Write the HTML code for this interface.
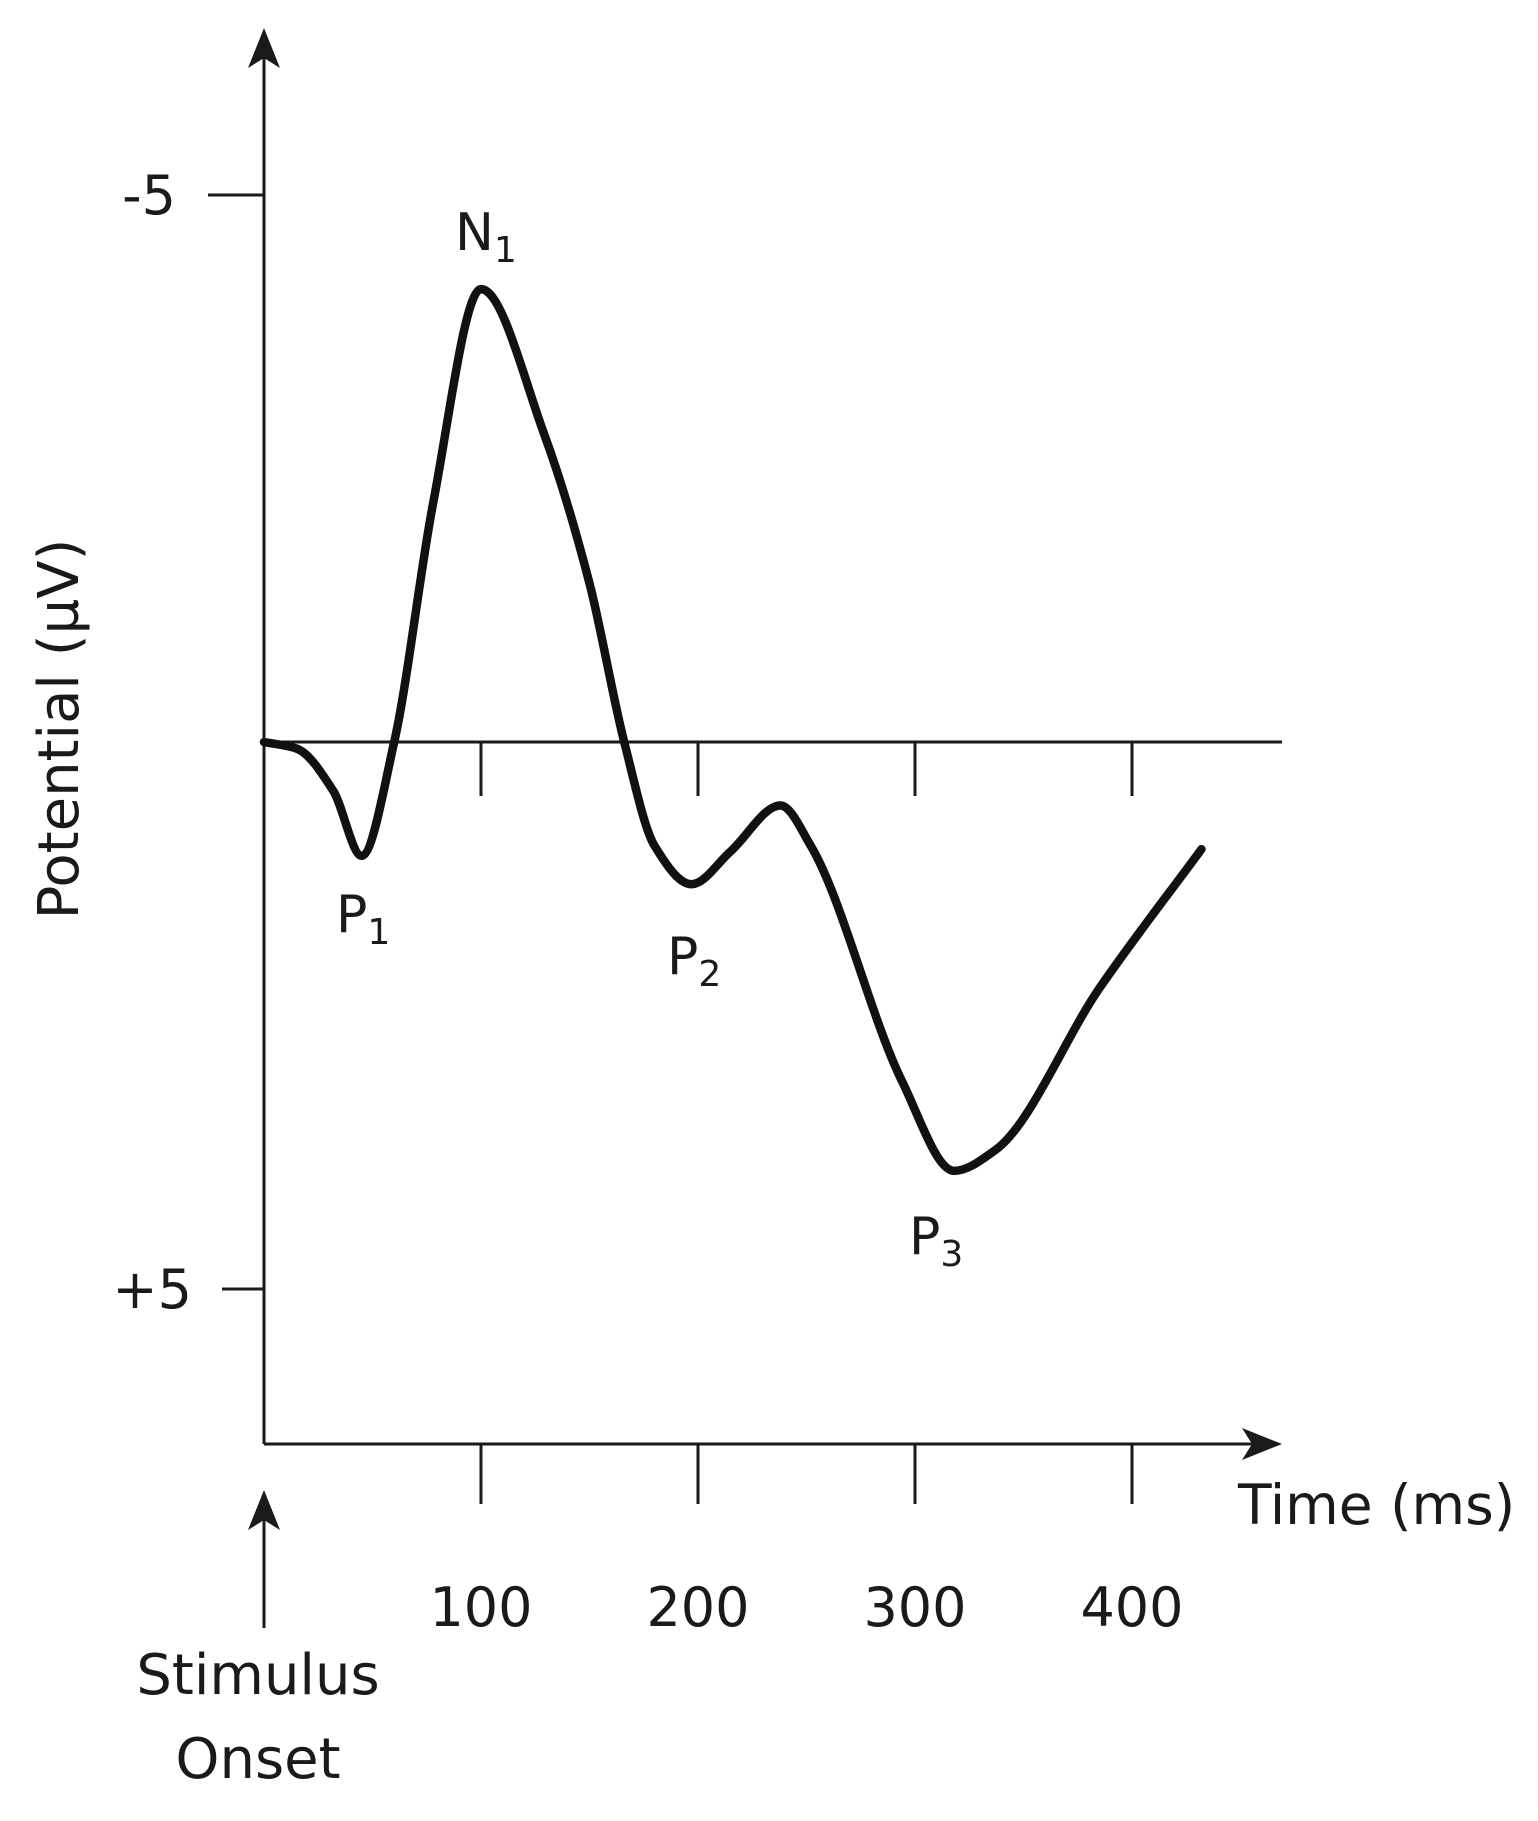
<!DOCTYPE html>
<html><head><meta charset="utf-8"><style>
html,body{margin:0;padding:0;background:#fff;}
svg{display:block;}
text{font-family:"DejaVu Sans","Liberation Sans",sans-serif;fill:#1a1a1a;}
</style></head><body>
<svg id="chart" width="1538" height="1821" viewBox="0 0 1538 1821" xmlns="http://www.w3.org/2000/svg">
<g id="axes" stroke="#1a1a1a" stroke-width="3" fill="none">
  <line x1="264" y1="40" x2="264" y2="1444"/>
  <polygon points="264,28 248,68 264,58 280,68" fill="#1a1a1a" stroke="none"/>
  <line x1="264" y1="1444" x2="1270" y2="1444"/>
  <polygon points="1282,1444 1242,1428 1252,1444 1242,1460" fill="#1a1a1a" stroke="none"/>
  <line x1="264" y1="742" x2="1282" y2="742"/>
  <line x1="264" y1="1500" x2="264" y2="1628"/>
  <polygon points="264,1490 248,1530 264,1520 280,1530" fill="#1a1a1a" stroke="none"/>
</g>
<g id="ticks"></g>
<path id="erp" fill="none" stroke="#111" stroke-width="8.5" stroke-linejoin="round" stroke-linecap="round"/>
<text x="0" y="0" font-size="56" text-anchor="middle" transform="translate(78,729) rotate(-90)">Potential (µV)</text>
<text x="1238" y="1524" font-size="55">Time (ms)</text>
<text x="258" y="1694" font-size="56" text-anchor="middle">Stimulus</text>
<text x="258" y="1778" font-size="56" text-anchor="middle">Onset</text>
<text x="455" y="250" font-size="52">N<tspan font-size="36" dy="12">1</tspan></text>
<text x="336" y="932" font-size="52">P<tspan font-size="36" dy="12">1</tspan></text>
<text x="667" y="974" font-size="52">P<tspan font-size="36" dy="12">2</tspan></text>
<text x="909" y="1254" font-size="52">P<tspan font-size="36" dy="12">3</tspan></text>
</svg>
<script>
const timesMs = [0,15,32,45,60,78,100,129,150,166,180,197,215,238,252,294,318,337,385,432];
const microvolts = [0,0.06,0.45,1.04,0,-2.19,-4.14,-2.82,-1.45,0,0.95,1.3,1.0,0.58,0.95,3.1,3.92,3.73,2.25,0.98];
const xTicks = [100,200,300,400];
const xTickLabels = ["100","200","300","400"];
const yTicks = [-5,5];
const yTickLabels = ["-5","+5"];

const X0=264, PXMS=2.17, Y0=742, PXUV=109.4;
function xScale(t){return X0+t*PXMS;}
function yScale(v){return Y0+v*PXUV;}
const NS="http://www.w3.org/2000/svg";
const tg=document.getElementById('ticks');
function mk(tag,attrs){const e=document.createElementNS(NS,tag);for(const k in attrs)e.setAttribute(k,attrs[k]);return e;}
xTicks.forEach((t,i)=>{
  const x=xScale(t);
  const a=mk('line',{x1:x,y1:742,x2:x,y2:796,stroke:'#1a1a1a','stroke-width':3});
  
  
  tg.appendChild(a);
  const b=mk('line',{x1:x,y1:1444,x2:x,y2:1504,stroke:'#1a1a1a','stroke-width':3});
  
  
  tg.appendChild(b);
  const l=mk('text',{x:x,y:1626,'font-size':54,'text-anchor':'middle'});
  
  
  l.textContent=xTickLabels[i];
  tg.appendChild(l);
});
yTicks.forEach((v,i)=>{
  const y=yScale(v);
  const a=mk('line',{x1:i==0?208:222,y1:y,x2:264,y2:y,stroke:'#1a1a1a','stroke-width':3});
  
  
  tg.appendChild(a);
  const l=mk('text',{x:i==0?176:192,y:y+19,'font-size':54,'text-anchor':'end'});
  
  
  l.textContent=yTickLabels[i];
  tg.appendChild(l);
});
// monotone cubic (Fritsch-Carlson) interpolation in pixel space
const px=timesMs.map(xScale), py=microvolts.map(yScale);
const n=px.length, dl=[], m=[];
for(let i=0;i<n-1;i++) dl.push((py[i+1]-py[i])/(px[i+1]-px[i]));
m[0]=dl[0]; m[n-1]=dl[n-2];
for(let i=1;i<n-1;i++){
  if(dl[i-1]*dl[i]<=0) m[i]=0;
  else { const h0=px[i]-px[i-1], h1=px[i+1]-px[i];
    const w1=2*h1+h0, w2=h1+2*h0;
    m[i]=(w1+w2)/(w1/dl[i-1]+w2/dl[i]); }
}
let d='M'+px[0]+','+py[0];
for(let i=0;i<n-1;i++){
  const h=(px[i+1]-px[i])/3;
  d+=' C'+(px[i]+h)+','+(py[i]+m[i]*h)+' '+(px[i+1]-h)+','+(py[i+1]-m[i+1]*h)+' '+px[i+1]+','+py[i+1];
}
document.getElementById('erp').setAttribute('d',d);
</script>
</body></html>
